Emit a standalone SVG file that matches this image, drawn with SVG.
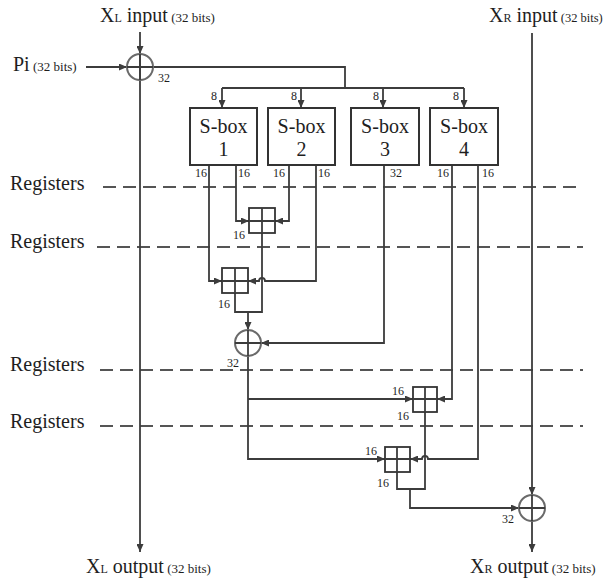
<svg xmlns="http://www.w3.org/2000/svg" width="605" height="581" viewBox="0 0 605 581">
<defs>
<marker id="arr" viewBox="0 0 8 7" refX="8" refY="3.5" markerWidth="8" markerHeight="7" markerUnits="userSpaceOnUse" orient="auto">
<path d="M0,0 L8,3.5 L0,7 z" fill="#3c3c3c"/>
</marker>
<style>
text{font-family:'Liberation Serif','Times New Roman',serif;fill:#1e1e1e}
.big{font-size:20px}
.lbl{font-size:12px}
.w{fill:none;stroke:#3c3c3c;stroke-width:1.8}
.a{marker-end:url(#arr)}
.box{fill:#fff;stroke:#333;stroke-width:2}
.add{fill:#fff;stroke:#333;stroke-width:1.8}
.xor{fill:none;stroke:#6a6a6a;stroke-width:2}
.cross{stroke:#3c3c3c;stroke-width:1.8}
.dash{stroke:#555;stroke-width:2;stroke-dasharray:13 7;fill:none}
</style>
</defs>
<rect width="605" height="581" fill="#fff"/>

<g id="registers">
<path class="dash" d="M103 187 H583"/>
<path class="dash" d="M97 247 H583"/>
<path class="dash" d="M100 370 H583"/>
<path class="dash" d="M100 426 H583"/>
<text class="big" x="10" y="190">Registers</text>
<text class="big" x="10" y="248">Registers</text>
<text class="big" x="10" y="371">Registers</text>
<text class="big" x="10" y="428">Registers</text>
</g>

<g id="connectors">
<path class="w a" d="M140 32 V54"/>
<path class="w a" d="M140 54 V552"/>
<path class="w a" d="M86 67 H127"/>
<path class="w" d="M127 67 H345 V88"/>
<path class="w" d="M222 88 H464"/>
<path class="w a" d="M222 88 V108"/>
<path class="w a" d="M301 88 V108"/>
<path class="w a" d="M383 88 V108"/>
<path class="w a" d="M464 88 V108"/>
<path class="w a" d="M209 165 V281 H222"/>
<path class="w a" d="M236 165 V221 H249"/>
<path class="w a" d="M289 165 V221 H275"/>
<path class="w a" d="M316 165 V281 H265 a3 3 0 0 0 -6 0 H248"/>
<path class="w" d="M262 233 V312 H235 V293"/>
<path class="w a" d="M248 312 V330"/>
<path class="w a" d="M384 165 V343 H261"/>
<path class="w a" d="M248 356 V459 H385"/>
<path class="w a" d="M248 399 H413"/>
<path class="w a" d="M452 165 V399 H437"/>
<path class="w a" d="M478 165 V459 H428 a3 3 0 0 0 -6 0 H410"/>
<path class="w" d="M425 412 V489 H397 V472"/>
<path class="w a" d="M410 489 V508 H519"/>
<path class="w a" d="M532 33 V495"/>
<path class="w a" d="M532 521 V552"/>
</g>

<g id="xor1">
<circle class="xor" cx="140" cy="67" r="13"/>
<path class="cross" d="M127 67 H153 M140 54 V80"/>
<text class="lbl" x="158" y="82">32</text>
</g>
<g id="xor2">
<circle class="xor" cx="248" cy="343" r="13"/>
<path class="cross" d="M235 343 H261 M248 330 V356"/>
<text class="lbl" x="227" y="367">32</text>
</g>
<g id="xor3">
<circle class="xor" cx="532" cy="508" r="13"/>
<path class="cross" d="M519 508 H545 M532 495 V521"/>
<text class="lbl" x="502" y="523">32</text>
</g>

<g id="add1">
<rect class="add" x="249" y="208" width="26" height="25"/>
<path class="cross" d="M262 208 V233 M249 221 H275"/>
<text class="lbl" x="233" y="239">16</text>
</g>
<g id="add2">
<rect class="add" x="222" y="268" width="26" height="25"/>
<path class="cross" d="M235 268 V293 M222 281 H248"/>
<text class="lbl" x="218" y="308">16</text>
</g>
<g id="add3">
<rect class="add" x="413" y="387" width="24" height="25"/>
<path class="cross" d="M425 387 V412 M413 399 H437"/>
<text class="lbl" x="392" y="395">16</text>
<text class="lbl" x="397" y="420">16</text>
</g>
<g id="add4">
<rect class="add" x="385" y="447" width="25" height="25"/>
<path class="cross" d="M397 447 V472 M385 459 H410"/>
<text class="lbl" x="365" y="455">16</text>
<text class="lbl" x="377" y="487">16</text>
</g>

<g id="sbox1">
<rect class="box" x="190" y="108" width="67" height="57"/>
<text class="big" x="223.5" y="133" text-anchor="middle">S-box</text>
<text class="big" x="223.5" y="156" text-anchor="middle">1</text>
<text class="lbl" x="217" y="100" text-anchor="end">8</text>
<text class="lbl" x="195" y="177">16</text>
<text class="lbl" x="238" y="177">16</text>
</g>
<g id="sbox2">
<rect class="box" x="268" y="108" width="67" height="57"/>
<text class="big" x="301.5" y="133" text-anchor="middle">S-box</text>
<text class="big" x="301.5" y="156" text-anchor="middle">2</text>
<text class="lbl" x="297" y="100" text-anchor="end">8</text>
<text class="lbl" x="273" y="177">16</text>
<text class="lbl" x="318" y="177">16</text>
</g>
<g id="sbox3">
<rect class="box" x="351" y="108" width="68" height="57"/>
<text class="big" x="385" y="133" text-anchor="middle">S-box</text>
<text class="big" x="385" y="156" text-anchor="middle">3</text>
<text class="lbl" x="379" y="100" text-anchor="end">8</text>
<text class="lbl" x="390" y="177">32</text>
</g>
<g id="sbox4">
<rect class="box" x="430" y="108" width="68" height="57"/>
<text class="big" x="464" y="133" text-anchor="middle">S-box</text>
<text class="big" x="464" y="156" text-anchor="middle">4</text>
<text class="lbl" x="459" y="100" text-anchor="end">8</text>
<text class="lbl" x="437" y="177">16</text>
<text class="lbl" x="482" y="177">16</text>
</g>

<g id="xl_in"><text x="100" y="22"><tspan font-size="20">X</tspan><tspan font-size="12">L</tspan><tspan font-size="20"> input</tspan><tspan font-size="13"> (32 bits)</tspan></text></g>
<g id="xr_in"><text x="489" y="22"><tspan font-size="20">X</tspan><tspan font-size="12">R</tspan><tspan font-size="20"> input</tspan><tspan font-size="12.5"> (32 bits)</tspan></text></g>
<g id="pi"><text x="13" y="71"><tspan font-size="20">Pi</tspan><tspan font-size="13"> (32 bits)</tspan></text></g>
<g id="xl_out"><text x="86" y="573"><tspan font-size="20">X</tspan><tspan font-size="12">L</tspan><tspan font-size="20"> output</tspan><tspan font-size="13"> (32 bits)</tspan></text></g>
<g id="xr_out"><text x="470" y="573"><tspan font-size="20">X</tspan><tspan font-size="12">R</tspan><tspan font-size="20"> output</tspan><tspan font-size="13"> (32 bits)</tspan></text></g>
</svg>
